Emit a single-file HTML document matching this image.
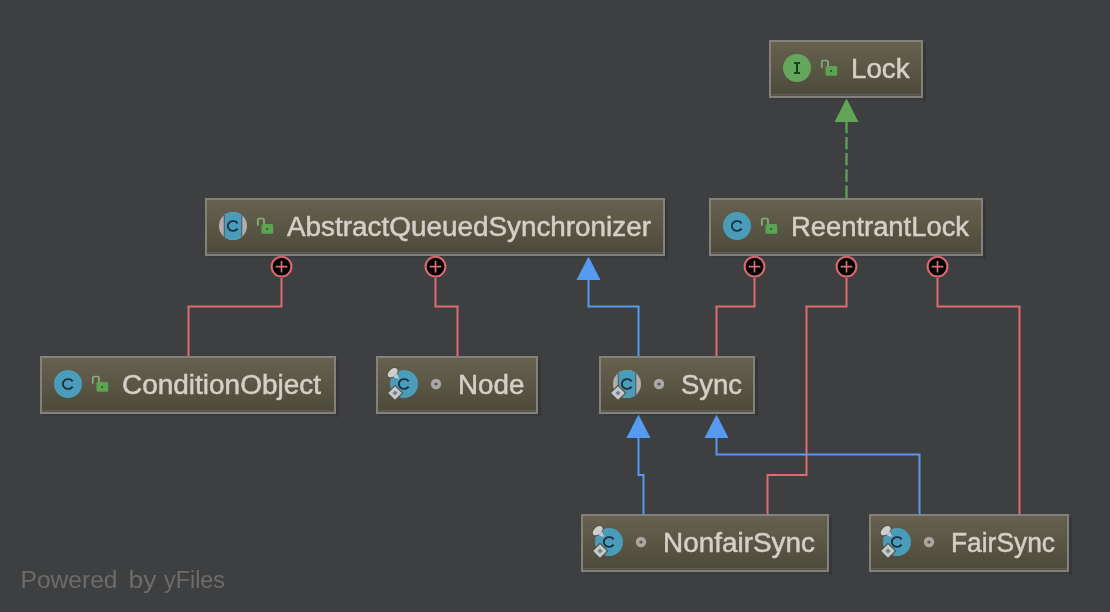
<!DOCTYPE html>
<html><head><meta charset="utf-8"><style>
html,body{margin:0;padding:0;background:#3e3f41;width:1110px;height:612px;overflow:hidden}
svg{display:block;will-change:transform}
.lbl{font-family:"Liberation Sans",sans-serif;font-size:27px;fill:#d4d0c7;stroke:#d4d0c7;stroke-width:0.5px}
.pw{font-family:"Liberation Sans",sans-serif;font-size:23.5px;fill:#6c6c6c}
</style></head><body>
<svg width="1110" height="612" viewBox="0 0 1110 612">
<defs>
<linearGradient id="g" x1="0" y1="0" x2="0" y2="1">
<stop offset="0" stop-color="#67614f"/>
<stop offset="0.5" stop-color="#5a5645"/>
<stop offset="1" stop-color="#4b493b"/>
</linearGradient>
</defs>
<rect width="1110" height="612" fill="#3e3f41"/>
<path d="M281.5,278 V306.5 H188.5 V356" stroke="#e06c72" stroke-width="2" fill="none"/>
<path d="M435.5,278 V306.5 H457.5 V356" stroke="#e06c72" stroke-width="2" fill="none"/>
<path d="M754.5,278 V306.5 H716.5 V356" stroke="#e06c72" stroke-width="2" fill="none"/>
<path d="M846.5,278 V306.5 H806.5 V475 H767.5 V514" stroke="#e06c72" stroke-width="2" fill="none"/>
<path d="M937.5,278 V306.5 H1019.5 V514" stroke="#e06c72" stroke-width="2" fill="none"/>
<circle cx="281.5" cy="266.6" r="9.9" fill="#000" stroke="#e06c72" stroke-width="2"/>
<path d="M275.6,266.6 h11.8 M281.5,260.7 v11.8" stroke="#e06c72" stroke-width="1.7"/>
<circle cx="435.5" cy="266.6" r="9.9" fill="#000" stroke="#e06c72" stroke-width="2"/>
<path d="M429.6,266.6 h11.8 M435.5,260.7 v11.8" stroke="#e06c72" stroke-width="1.7"/>
<circle cx="754.5" cy="266.6" r="9.9" fill="#000" stroke="#e06c72" stroke-width="2"/>
<path d="M748.6,266.6 h11.8 M754.5,260.7 v11.8" stroke="#e06c72" stroke-width="1.7"/>
<circle cx="846.5" cy="266.6" r="9.9" fill="#000" stroke="#e06c72" stroke-width="2"/>
<path d="M840.6,266.6 h11.8 M846.5,260.7 v11.8" stroke="#e06c72" stroke-width="1.7"/>
<circle cx="937.5" cy="266.6" r="9.9" fill="#000" stroke="#e06c72" stroke-width="2"/>
<path d="M931.6,266.6 h11.8 M937.5,260.7 v11.8" stroke="#e06c72" stroke-width="1.7"/>
<path d="M638.5,356 V306.5 H588.5 V279" stroke="#569bf0" stroke-width="2" fill="none"/>
<path d="M643.5,514 V475 H638.5 V437" stroke="#569bf0" stroke-width="2" fill="none"/>
<path d="M919.5,514 V454.5 H716.5 V437" stroke="#569bf0" stroke-width="2" fill="none"/>
<path d="M588.5,256.5 L600.5,280.0 L576.5,280.0 Z" fill="#569bf0"/>
<path d="M638.5,414.5 L650.5,438.0 L626.5,438.0 Z" fill="#569bf0"/>
<path d="M716.5,414.5 L728.5,438.0 L704.5,438.0 Z" fill="#569bf0"/>
<path d="M846.5,198 V122" stroke="#62a458" stroke-width="2.2" stroke-dasharray="12.5 3.7" fill="none"/>
<path d="M846.5,98.5 L858.5,122 L834.5,122 Z" fill="#62a458"/>
<rect x="923" y="43" width="3" height="58" fill="#000" fill-opacity="0.13"/>
<rect x="772" y="98" width="151" height="2" fill="#000" fill-opacity="0.08"/>
<rect x="770" y="41" width="152" height="56" fill="url(#g)" stroke="#82817c" stroke-width="2"/>
<rect x="771" y="94" width="150" height="1.5" fill="#5e5c55"/>
<circle cx="797" cy="68" r="14" fill="#64a65b"/>
<path d="M794,63 h6 M794,73 h6 M797,63 v10" stroke="#1d3f1d" stroke-width="2" fill="none"/>
<path d="M821.8,67.7 V61.900000000000006 Q821.8,60.50000000000001 823.2,60.50000000000001 H826.6 Q828,60.50000000000001 828,61.900000000000006 V66.4" stroke="#86b27a" stroke-width="1.7" fill="none"/>
<rect x="825.5" y="65.9" width="11.7" height="9.8" rx="1.5" fill="#5ca352"/>
<circle cx="831.2" cy="70.9" r="1" fill="#2c4a28"/>
<text x="851" y="78" textLength="58.6" lengthAdjust="spacingAndGlyphs" class="lbl">Lock</text>
<rect x="665" y="201" width="3" height="58" fill="#000" fill-opacity="0.13"/>
<rect x="208" y="256" width="457" height="2" fill="#000" fill-opacity="0.08"/>
<rect x="206" y="199" width="458" height="56" fill="url(#g)" stroke="#82817c" stroke-width="2"/>
<rect x="207" y="252" width="456" height="1.5" fill="#5e5c55"/>
<circle cx="233" cy="226" r="14" fill="#b3adad"/>
<clipPath id="cp233_226"><rect x="224.3" y="212" width="17.4" height="28"/></clipPath>
<circle cx="233" cy="226" r="14" fill="#4a9cb8" clip-path="url(#cp233_226)"/>
<path d="M224.3,215 v22 M241.7,215 v22" stroke="#4a6470" stroke-width="1.2" fill="none"/>
<path d="M237.6,223.4 A5.3,4.9 0 1 0 237.6,228.6" stroke="#1b2f48" stroke-width="1.9" fill="none"/>
<path d="M257.8,225.70000000000002 V219.9 Q257.8,218.5 259.2,218.5 H262.6 Q264,218.5 264,219.9 V224.4" stroke="#86b27a" stroke-width="1.7" fill="none"/>
<rect x="261.5" y="223.9" width="11.7" height="9.8" rx="1.5" fill="#5ca352"/>
<circle cx="267.2" cy="228.9" r="1" fill="#2c4a28"/>
<text x="287" y="236" textLength="364" lengthAdjust="spacingAndGlyphs" class="lbl">AbstractQueuedSynchronizer</text>
<rect x="983" y="201" width="3" height="58" fill="#000" fill-opacity="0.13"/>
<rect x="712" y="256" width="271" height="2" fill="#000" fill-opacity="0.08"/>
<rect x="710" y="199" width="272" height="56" fill="url(#g)" stroke="#82817c" stroke-width="2"/>
<rect x="711" y="252" width="270" height="1.5" fill="#5e5c55"/>
<circle cx="737" cy="226" r="14" fill="#4a9cb8"/>
<path d="M741.6,223.4 A5.3,4.9 0 1 0 741.6,228.6" stroke="#1b2f48" stroke-width="1.9" fill="none"/>
<path d="M761.8,225.70000000000002 V219.9 Q761.8,218.5 763.2,218.5 H766.6 Q768,218.5 768,219.9 V224.4" stroke="#86b27a" stroke-width="1.7" fill="none"/>
<rect x="765.5" y="223.9" width="11.7" height="9.8" rx="1.5" fill="#5ca352"/>
<circle cx="771.2" cy="228.9" r="1" fill="#2c4a28"/>
<text x="791" y="236" textLength="178" lengthAdjust="spacingAndGlyphs" class="lbl">ReentrantLock</text>
<rect x="336" y="359" width="3" height="58" fill="#000" fill-opacity="0.13"/>
<rect x="43" y="414" width="293" height="2" fill="#000" fill-opacity="0.08"/>
<rect x="41" y="357" width="294" height="56" fill="url(#g)" stroke="#82817c" stroke-width="2"/>
<rect x="42" y="410" width="292" height="1.5" fill="#5e5c55"/>
<circle cx="68" cy="384" r="14" fill="#4a9cb8"/>
<path d="M72.6,381.4 A5.3,4.9 0 1 0 72.6,386.6" stroke="#1b2f48" stroke-width="1.9" fill="none"/>
<path d="M92.8,383.7 V377.9 Q92.8,376.5 94.2,376.5 H97.6 Q99,376.5 99,377.9 V382.4" stroke="#86b27a" stroke-width="1.7" fill="none"/>
<rect x="96.5" y="381.9" width="11.7" height="9.8" rx="1.5" fill="#5ca352"/>
<circle cx="102.2" cy="386.9" r="1" fill="#2c4a28"/>
<text x="122" y="394" textLength="199" lengthAdjust="spacingAndGlyphs" class="lbl">ConditionObject</text>
<rect x="538" y="359" width="3" height="58" fill="#000" fill-opacity="0.13"/>
<rect x="379" y="414" width="159" height="2" fill="#000" fill-opacity="0.08"/>
<rect x="377" y="357" width="160" height="56" fill="url(#g)" stroke="#82817c" stroke-width="2"/>
<rect x="378" y="410" width="158" height="1.5" fill="#5e5c55"/>
<circle cx="404" cy="384" r="14" fill="#4a9cb8"/>
<path d="M408.6,381.4 A5.3,4.9 0 1 0 408.6,386.6" stroke="#1b2f48" stroke-width="1.9" fill="none"/>
<path d="M395,384.7 L403.3,393 L395,401.3 L386.7,393 Z" fill="#4f4c3f"/>
<path d="M395,386.2 L401.8,393 L395,399.8 L388.2,393 Z" fill="#c8c8cc"/>
<rect x="393.2" y="391.2" width="3.6" height="3.6" fill="#62878e" transform="rotate(45 395 393)"/>
<ellipse cx="392.7" cy="372.7" rx="6.7" ry="4.4" fill="#4f4c3d" transform="rotate(-40 392.7 372.7)"/>
<ellipse cx="392.7" cy="372.7" rx="5.8" ry="3.6" fill="#cfcfd2" transform="rotate(-40 392.7 372.7)"/>
<path d="M393.5,376.9 L396.9,373.5 L399.3,379.3 Z" fill="#c9c9cc"/>
<circle cx="436" cy="384" r="5.2" fill="#a9a8a3"/>
<circle cx="436" cy="384" r="1.6" fill="#555550"/>
<text x="458" y="394" textLength="66.4" lengthAdjust="spacingAndGlyphs" class="lbl">Node</text>
<rect x="755" y="359" width="3" height="58" fill="#000" fill-opacity="0.13"/>
<rect x="602" y="414" width="153" height="2" fill="#000" fill-opacity="0.08"/>
<rect x="600" y="357" width="154" height="56" fill="url(#g)" stroke="#82817c" stroke-width="2"/>
<rect x="601" y="410" width="152" height="1.5" fill="#5e5c55"/>
<circle cx="627" cy="384" r="14" fill="#b3adad"/>
<clipPath id="cp627_384"><rect x="618.3" y="370" width="17.4" height="28"/></clipPath>
<circle cx="627" cy="384" r="14" fill="#4a9cb8" clip-path="url(#cp627_384)"/>
<path d="M618.3,373 v22 M635.7,373 v22" stroke="#4a6470" stroke-width="1.2" fill="none"/>
<path d="M631.6,381.4 A5.3,4.9 0 1 0 631.6,386.6" stroke="#1b2f48" stroke-width="1.9" fill="none"/>
<path d="M618,384.7 L626.3,393 L618,401.3 L609.7,393 Z" fill="#4f4c3f"/>
<path d="M618,386.2 L624.8,393 L618,399.8 L611.2,393 Z" fill="#c8c8cc"/>
<rect x="616.2" y="391.2" width="3.6" height="3.6" fill="#62878e" transform="rotate(45 618 393)"/>
<circle cx="659" cy="384" r="5.2" fill="#a9a8a3"/>
<circle cx="659" cy="384" r="1.6" fill="#555550"/>
<text x="681" y="394" textLength="61" lengthAdjust="spacingAndGlyphs" class="lbl">Sync</text>
<rect x="829" y="517" width="3" height="58" fill="#000" fill-opacity="0.13"/>
<rect x="584" y="572" width="245" height="2" fill="#000" fill-opacity="0.08"/>
<rect x="582" y="515" width="246" height="56" fill="url(#g)" stroke="#82817c" stroke-width="2"/>
<rect x="583" y="568" width="244" height="1.5" fill="#5e5c55"/>
<circle cx="609" cy="542" r="14" fill="#4a9cb8"/>
<path d="M613.6,539.4 A5.3,4.9 0 1 0 613.6,544.6" stroke="#1b2f48" stroke-width="1.9" fill="none"/>
<path d="M600,542.7 L608.3,551 L600,559.3 L591.7,551 Z" fill="#4f4c3f"/>
<path d="M600,544.2 L606.8,551 L600,557.8 L593.2,551 Z" fill="#c8c8cc"/>
<rect x="598.2" y="549.2" width="3.6" height="3.6" fill="#62878e" transform="rotate(45 600 551)"/>
<ellipse cx="597.7" cy="530.7" rx="6.7" ry="4.4" fill="#4f4c3d" transform="rotate(-40 597.7 530.7)"/>
<ellipse cx="597.7" cy="530.7" rx="5.8" ry="3.6" fill="#cfcfd2" transform="rotate(-40 597.7 530.7)"/>
<path d="M598.5,534.9000000000001 L601.9000000000001,531.5 L604.3000000000001,537.3000000000001 Z" fill="#c9c9cc"/>
<circle cx="641" cy="542" r="5.2" fill="#a9a8a3"/>
<circle cx="641" cy="542" r="1.6" fill="#555550"/>
<text x="663" y="552" textLength="152" lengthAdjust="spacingAndGlyphs" class="lbl">NonfairSync</text>
<rect x="1069" y="517" width="3" height="58" fill="#000" fill-opacity="0.13"/>
<rect x="872" y="572" width="197" height="2" fill="#000" fill-opacity="0.08"/>
<rect x="870" y="515" width="198" height="56" fill="url(#g)" stroke="#82817c" stroke-width="2"/>
<rect x="871" y="568" width="196" height="1.5" fill="#5e5c55"/>
<circle cx="897" cy="542" r="14" fill="#4a9cb8"/>
<path d="M901.6,539.4 A5.3,4.9 0 1 0 901.6,544.6" stroke="#1b2f48" stroke-width="1.9" fill="none"/>
<path d="M888,542.7 L896.3,551 L888,559.3 L879.7,551 Z" fill="#4f4c3f"/>
<path d="M888,544.2 L894.8,551 L888,557.8 L881.2,551 Z" fill="#c8c8cc"/>
<rect x="886.2" y="549.2" width="3.6" height="3.6" fill="#62878e" transform="rotate(45 888 551)"/>
<ellipse cx="885.7" cy="530.7" rx="6.7" ry="4.4" fill="#4f4c3d" transform="rotate(-40 885.7 530.7)"/>
<ellipse cx="885.7" cy="530.7" rx="5.8" ry="3.6" fill="#cfcfd2" transform="rotate(-40 885.7 530.7)"/>
<path d="M886.5,534.9000000000001 L889.9000000000001,531.5 L892.3000000000001,537.3000000000001 Z" fill="#c9c9cc"/>
<circle cx="929" cy="542" r="5.2" fill="#a9a8a3"/>
<circle cx="929" cy="542" r="1.6" fill="#555550"/>
<text x="951" y="552" textLength="104" lengthAdjust="spacingAndGlyphs" class="lbl">FairSync</text>
<text x="20.5" y="587.5" class="pw" textLength="97" lengthAdjust="spacingAndGlyphs">Powered</text>
<text x="128.5" y="587.5" class="pw" textLength="28" lengthAdjust="spacingAndGlyphs">by</text>
<text x="164" y="587.5" class="pw" textLength="61" lengthAdjust="spacingAndGlyphs">yFiles</text>
</svg>
</body></html>
